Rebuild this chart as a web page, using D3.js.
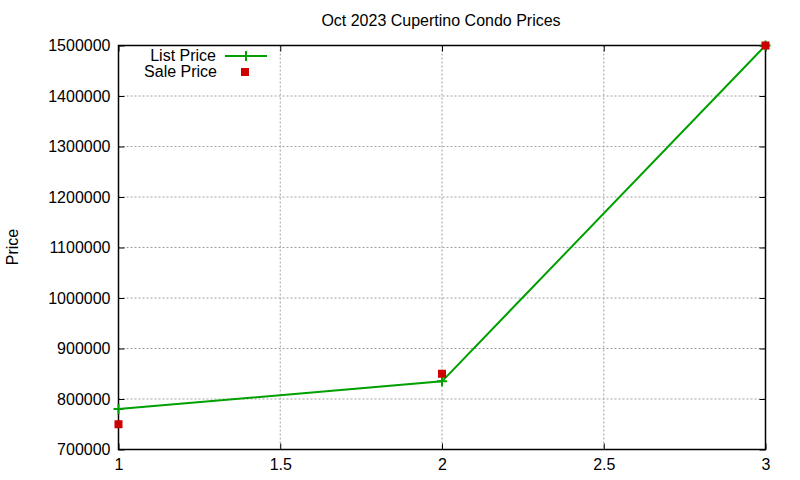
<!DOCTYPE html>
<html><head><meta charset="utf-8">
<script src="https://cdn.jsdelivr.net/npm/d3@7"></script>
<style>body{margin:0;background:#fff}svg{display:block;font-family:"Liberation Sans",Arial,sans-serif}</style>
</head><body>
<svg id="c" width="800" height="480"></svg>
<script>
const xs = [1, 2, 3];
const listPrice = [780000, 835000, 1500000];
const salePrice = [750000, 850000, 1500000];
const yTicks = [700000, 800000, 900000, 1000000, 1100000, 1200000, 1300000, 1400000, 1500000];
const xTicks = [1, 1.5, 2, 2.5, 3];
const title = "Oct 2023 Cupertino Condo Prices";

const FS = "16px";
const svg = d3.select("#c");
const L = 118.5, R = 765.5, T = 45.5, B = 449.5;
const x = d3.scaleLinear().domain([1, 3]).range([L, R]);
const y = d3.scaleLinear().domain([700000, 1500000]).range([B, T]);

// grid
const g = svg.append("g");
yTicks.filter(v => v > 700000 && v < 1500000).forEach(v => {
  g.append("line").attr("x1", L).attr("x2", R).attr("y1", y(v)).attr("y2", y(v))
   .attr("stroke", "#a0a0a0").attr("stroke-width", 1).attr("stroke-dasharray", "2,2");
});
xTicks.filter(v => v > 1 && v < 3).forEach(v => {
  g.append("line").attr("y1", T).attr("y2", B).attr("x1", x(v)).attr("x2", x(v))
   .attr("stroke", "#a0a0a0").attr("stroke-width", 1).attr("stroke-dasharray", "2,2");
});

// axes
const yAxisL = d3.axisLeft(y).tickValues(yTicks).tickSizeInner(-6).tickSizeOuter(0).tickPadding(8).tickFormat(d3.format("d"));
const yAxisR = d3.axisRight(y).tickValues(yTicks).tickSizeInner(-6).tickSizeOuter(0).tickFormat("");
const xAxisB = d3.axisBottom(x).tickValues(xTicks).tickSizeInner(-6).tickSizeOuter(0).tickPadding(9).tickFormat(d3.format("~g"));
const xAxisT = d3.axisTop(x).tickValues(xTicks).tickSizeInner(-6).tickSizeOuter(0).tickFormat("");

function style(sel){
  sel.selectAll(".domain").remove();
  sel.selectAll("line").attr("stroke", "#000");
  sel.selectAll("text").attr("fill", "#000").style("font-size", FS).style("font-family", '"Liberation Sans",Arial,sans-serif');
}
svg.append("g").attr("transform", `translate(${L},0)`).call(yAxisL).call(style);
svg.append("g").attr("transform", `translate(${R},0)`).call(yAxisR).call(style);
svg.append("g").attr("transform", `translate(0,${B})`).call(xAxisB).call(style);
svg.append("g").attr("transform", `translate(0,${T})`).call(xAxisT).call(style);

svg.append("rect").attr("x", L).attr("y", T).attr("width", R - L).attr("height", B - T)
  .attr("fill", "none").attr("stroke", "#000").attr("stroke-width", 1.5);

// list price line
const green = "#00a000", red = "#cc0000";
const line = d3.line().x((d, i) => x(xs[i])).y(d => y(d));
svg.append("path").datum(listPrice).attr("d", line).attr("fill", "none")
  .attr("stroke", green).attr("stroke-width", 2);
const plus = (cx, cy) => {
  svg.append("path").attr("d", `M${cx-5},${cy}H${cx+5}M${cx},${cy-5}V${cy+5}`)
    .attr("stroke", green).attr("stroke-width", 2);
};
listPrice.forEach((v, i) => plus(x(xs[i]), y(v)));

// sale price squares
svg.selectAll(".sale").data(salePrice).enter().append("rect")
  .attr("x", (d, i) => x(xs[i]) - 4).attr("y", d => y(d) - 4)
  .attr("width", 8).attr("height", 8).attr("fill", red);

// legend
svg.append("text").attr("x", 216).attr("y", 61).attr("text-anchor", "end")
  .style("font-size", FS).text("List Price");
svg.append("line").attr("x1", 225).attr("x2", 267).attr("y1", 56).attr("y2", 56)
  .attr("stroke", green).attr("stroke-width", 2);
plus(246, 56);
svg.append("text").attr("x", 217).attr("y", 77).attr("text-anchor", "end")
  .style("font-size", FS).text("Sale Price");
svg.append("rect").attr("x", 241).attr("y", 68).attr("width", 8).attr("height", 8).attr("fill", red);

// title & y label
svg.append("text").attr("x", 441).attr("y", 26).attr("text-anchor", "middle")
  .style("font-size", FS).text(title);
svg.append("text").attr("transform", "translate(18,247) rotate(-90)").attr("text-anchor", "middle")
  .style("font-size", FS).text("Price");
</script>
</body></html>
